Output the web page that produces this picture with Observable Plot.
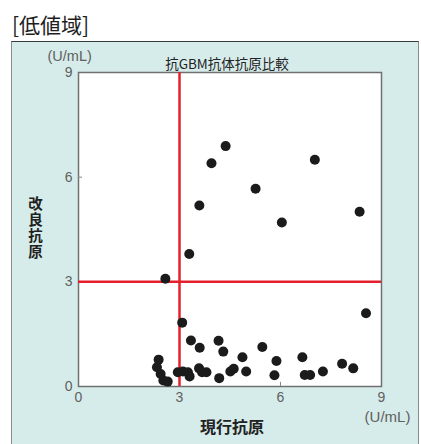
<!DOCTYPE html>
<html>
<head>
<meta charset="utf-8">
<script src="https://cdn.jsdelivr.net/npm/d3@7"></script>
<script src="https://cdn.jsdelivr.net/npm/@observablehq/plot@0.6"></script>
<style>
  html, body { margin: 0; padding: 0; background: #ffffff; }
  #wrap { position: relative; width: 421px; height: 444px; overflow: hidden; }
  #head { position: absolute; left: 12px; top: 7px; font: 21px "Noto Sans CJK JP", sans-serif; color: #1e1e1e; line-height: 34px; }
  #panel { position: absolute; left: 11px; top: 41px; width: 406px; height: 410px; background: #d6ecea; border-top: 1.5px solid #3a3a3a; border-left: 1px solid #8a8a8a; border-right: 1px solid #8a8a8a; }
  #chart { position: absolute; left: 0; top: 41px; }
</style>
</head>
<body>
<div id="wrap">
  <div id="head">[低値域]</div>
  <div id="panel"></div>
  <div id="chart"></div>
</div>
<script>
const chartTitle = "抗GBM抗体抗原比較";
const xLabel = "現行抗原";
const yLabel = "改良抗原";
const unitLabel = "(U/mL)";
const xTicks = [0, 3, 6, 9];
const yTicks = [0, 3, 6, 9];
const cutoffX = [3];
const cutoffY = [3];

// 現行抗原 (x) values
const currentAntigen = [
  2.58, 3.29, 3.59, 3.95, 4.37, 5.26, 6.04, 7.02, 8.35, 8.54,
  3.08, 3.34, 3.60, 4.16, 4.30, 5.46, 4.87, 5.88,
  2.38, 2.33, 2.44, 2.52, 2.65,
  2.95, 3.10, 3.25, 3.30,
  3.58, 3.67, 3.80, 4.18,
  4.51, 4.61, 4.98, 5.82,
  6.65, 6.72, 6.88, 7.26, 7.83, 8.16
];
// 改良抗原 (y) values
const improvedAntigen = [
  3.09, 3.80, 5.19, 6.40, 6.89, 5.67, 4.70, 6.50, 5.01, 2.10,
  1.83, 1.32, 1.11, 1.31, 1.00, 1.13, 0.84, 0.73,
  0.77, 0.55, 0.36, 0.17, 0.14,
  0.41, 0.43, 0.41, 0.29,
  0.52, 0.41, 0.41, 0.24,
  0.43, 0.51, 0.43, 0.32,
  0.84, 0.33, 0.33, 0.43, 0.65, 0.52
];

const points = currentAntigen.map((x, i) => ({x, y: improvedAntigen[i]}));
const tickFont = "'Liberation Sans', Arial, sans-serif";
const cjk = "'Noto Sans CJK JP', sans-serif";

const plot = Plot.plot({
  width: 421,
  height: 403,
  marginLeft: 78,
  marginRight: 40,
  marginTop: 31,
  marginBottom: 58,
  style: {background: "transparent", fontFamily: tickFont, fontSize: "14px", color: "#555"},
  x: {domain: [0, 9], ticks: xTicks},
  y: {domain: [0, 9], ticks: yTicks},
  marks: [
    Plot.frame({fill: "white", stroke: "#707070", strokeWidth: 1.5}),
    Plot.axisX({ticks: xTicks, tickSize: 0, tickPadding: 6, label: null, fill: "#606060", fontSize: 14}),
    Plot.axisY({ticks: yTicks, tickSize: 0, tickPadding: 6, label: null, fill: "#606060", fontSize: 14}),
    Plot.ruleX(xTicks.slice(1, -1), {x: d => d, y1: 0, y2: 0.12, stroke: "#888"}),
    Plot.ruleY(yTicks.slice(1, -1), {y: d => d, x1: 0, x2: 0.12, stroke: "#888"}),
    Plot.ruleX(cutoffX, {stroke: "#e3202b", strokeWidth: 2.5}),
    Plot.ruleY(cutoffY, {stroke: "#e3202b", strokeWidth: 2.5}),
    Plot.dot(points, {x: "x", y: "y", r: 5, fill: "#1b1b1b", stroke: "none"}),
    Plot.text([chartTitle], {frameAnchor: "top", dx: -3, dy: -13, fontSize: 13.5, fontFamily: cjk, fill: "#222", text: d => d}),
    Plot.text([unitLabel], {frameAnchor: "top-left", dx: -31, dy: -22, fontSize: 14.5, fontFamily: tickFont, fill: "#606060", text: d => d}),
    Plot.text([unitLabel], {frameAnchor: "bottom-right", textAnchor: "middle", dx: 6, dy: 35, fontSize: 15, fontFamily: tickFont, fill: "#606060", text: d => d}),
    Plot.text([xLabel], {frameAnchor: "bottom", dx: 2, dy: 46, fontSize: 16, fontWeight: "bold", fontFamily: cjk, fill: "#222", text: d => d}),
    Plot.text([yLabel], {frameAnchor: "left", textAnchor: "middle", dx: -43, dy: -6, fontSize: 14.5, fontWeight: "bold", fontFamily: cjk, fill: "#222", text: d => d})
  ]
});
// render the y label vertically (stacked characters) as a single text
d3.select(plot).selectAll("text").filter(function() { return this.textContent === yLabel; })
  .attr("dy", null)
  .attr("text-anchor", "middle")
  .style("writing-mode", "vertical-rl")
  .style("text-orientation", "upright")
  .style("letter-spacing", "1.6px")
  .style("dominant-baseline", "central");
document.getElementById("chart").appendChild(plot);
</script>
</body>
</html>
